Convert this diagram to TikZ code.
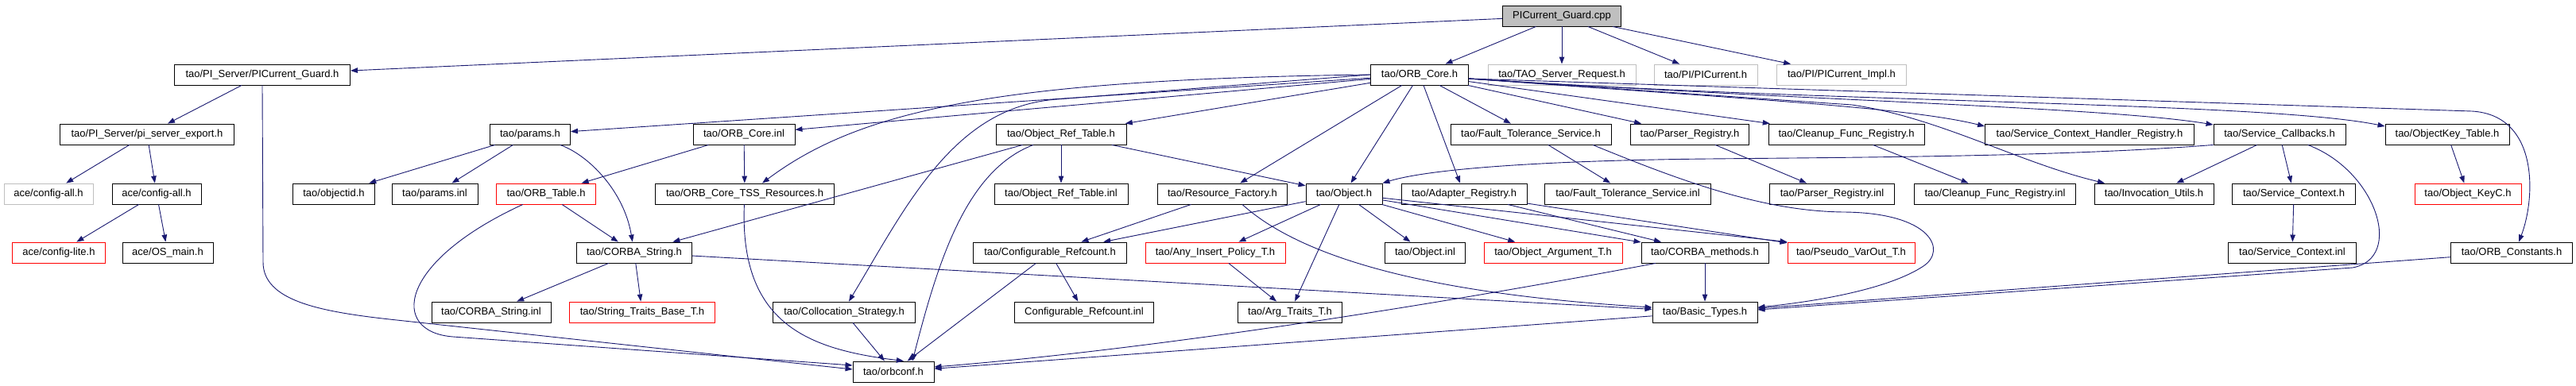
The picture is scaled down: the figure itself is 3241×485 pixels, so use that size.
\documentclass[tikz,border=0pt]{standalone}
\usepackage{fontspec}
\setmainfont{Liberation Sans}
\usetikzlibrary{arrows.meta}
\definecolor{midnightblue}{RGB}{25,25,112}
\definecolor{nodocgray}{RGB}{191,191,191}
\tikzset{
  incfile/.style={draw=black, line width=0.9pt, minimum height=26pt, inner sep=2pt, font=\fontsize{13}{15}\selectfont},
  truncfile/.style={incfile, draw=red},
  nodocfile/.style={incfile, draw=nodocgray},
  rootfile/.style={incfile, fill=nodocgray},
  incl/.style={draw=midnightblue, line width=0.9pt, -{Triangle[length=9pt,width=6.5pt]}}
}
\begin{document}
\begin{tikzpicture}[x=1pt,y=-1pt]
  \useasboundingbox (0,0) rectangle (3241,485);
  \node[rootfile, minimum width=149pt] (cpp) at (1965,20) {PICurrent\_Guard.cpp};
  \node[incfile, minimum width=221pt] (guardh) at (330,94) {tao/PI\_Server/PICurrent\_Guard.h};
  \node[incfile, minimum width=123pt] (orbcore) at (1786,94) {tao/ORB\_Core.h};
  \node[nodocfile, minimum width=186pt] (tsr) at (1965,94) {tao/TAO\_Server\_Request.h};
  \node[nodocfile, minimum width=130pt] (picur) at (2146,94) {tao/PI/PICurrent.h};
  \node[nodocfile, minimum width=163pt] (piimpl) at (2317,94) {tao/PI/PICurrent\_Impl.h};
  \node[incfile, minimum width=219pt] (piexp) at (185,169) {tao/PI\_Server/pi\_server\_export.h};
  \node[incfile, minimum width=101pt] (params) at (667,169) {tao/params.h};
  \node[incfile, minimum width=128pt] (corei) at (936,169) {tao/ORB\_Core.inl};
  \node[incfile, minimum width=164pt] (ortab) at (1335,169) {tao/Object\_Ref\_Table.h};
  \node[incfile, minimum width=202pt] (fts) at (1926,169) {tao/Fault\_Tolerance\_Service.h};
  \node[incfile, minimum width=149pt] (parser) at (2126,169) {tao/Parser\_Registry.h};
  \node[incfile, minimum width=196pt] (cleanup) at (2323,169) {tao/Cleanup\_Func\_Registry.h};
  \node[incfile, minimum width=263pt] (schr) at (2629,169) {tao/Service\_Context\_Handler\_Registry.h};
  \node[incfile, minimum width=166pt] (scb) at (2868,169) {tao/Service\_Callbacks.h};
  \node[incfile, minimum width=156pt] (oktab) at (3079,169) {tao/ObjectKey\_Table.h};
  \node[nodocfile, minimum width=112pt] (cfgallg) at (61,244) {ace/config-all.h};
  \node[incfile, minimum width=112pt] (cfgall) at (197,244) {ace/config-all.h};
  \node[incfile, minimum width=103pt] (objid) at (420,244) {tao/objectid.h};
  \node[incfile, minimum width=108pt] (paramsi) at (547,244) {tao/params.inl};
  \node[truncfile, minimum width=125pt] (orbtab) at (687,244) {tao/ORB\_Table.h};
  \node[incfile, minimum width=225pt] (tss) at (937,244) {tao/ORB\_Core\_TSS\_Resources.h};
  \node[incfile, minimum width=168pt] (ortabi) at (1335,244) {tao/Object\_Ref\_Table.inl};
  \node[incfile, minimum width=163pt] (resf) at (1538,244) {tao/Resource\_Factory.h};
  \node[incfile, minimum width=96pt] (object) at (1691,244) {tao/Object.h};
  \node[incfile, minimum width=158pt] (adapt) at (1842,244) {tao/Adapter\_Registry.h};
  \node[incfile, minimum width=209pt] (ftsi) at (2048,244) {tao/Fault\_Tolerance\_Service.inl};
  \node[incfile, minimum width=157pt] (parseri) at (2305,244) {tao/Parser\_Registry.inl};
  \node[incfile, minimum width=203pt] (cleanupi) at (2510,244) {tao/Cleanup\_Func\_Registry.inl};
  \node[incfile, minimum width=150pt] (invu) at (2710,244) {tao/Invocation\_Utils.h};
  \node[incfile, minimum width=155pt] (sctx) at (2886,244) {tao/Service\_Context.h};
  \node[truncfile, minimum width=134pt] (okeyc) at (3105,244) {tao/Object\_KeyC.h};
  \node[truncfile, minimum width=117pt] (cfglite) at (74,318) {ace/config-lite.h};
  \node[incfile, minimum width=114pt] (osmain) at (211,318) {ace/OS\_main.h};
  \node[incfile, minimum width=145pt] (cstr) at (798,318) {tao/CORBA\_String.h};
  \node[incfile, minimum width=193pt] (cref) at (1321,318) {tao/Configurable\_Refcount.h};
  \node[truncfile, minimum width=176pt] (anyins) at (1529,318) {tao/Any\_Insert\_Policy\_T.h};
  \node[incfile, minimum width=101pt] (objinl) at (1793,318) {tao/Object.inl};
  \node[truncfile, minimum width=174pt] (objarg) at (1954,318) {tao/Object\_Argument\_T.h};
  \node[incfile, minimum width=160pt] (cmeth) at (2145,318) {tao/CORBA\_methods.h};
  \node[truncfile, minimum width=160pt] (pseudo) at (2329,318) {tao/Pseudo\_VarOut\_T.h};
  \node[incfile, minimum width=161pt] (sctxi) at (2884,318) {tao/Service\_Context.inl};
  \node[incfile, minimum width=153pt] (orbconst) at (3160,318) {tao/ORB\_Constants.h};
  \node[incfile, minimum width=150pt] (cstri) at (618,393) {tao/CORBA\_String.inl};
  \node[truncfile, minimum width=183pt] (strtr) at (808,393) {tao/String\_Traits\_Base\_T.h};
  \node[incfile, minimum width=179pt] (coll) at (1062,393) {tao/Collocation\_Strategy.h};
  \node[incfile, minimum width=175pt] (crefi) at (1364,393) {Configurable\_Refcount.inl};
  \node[incfile, minimum width=131pt] (argtr) at (1623,393) {tao/Arg\_Traits\_T.h};
  \node[incfile, minimum width=132pt] (btypes) at (2145,393) {tao/Basic\_Types.h};
  \node[incfile, minimum width=102pt] (orbconf) at (1124,468) {tao/orbconf.h};

  \draw[incl] (cpp) -- (guardh);
  \draw[incl] (cpp) -- (orbcore);
  \draw[incl] (cpp) -- (tsr);
  \draw[incl] (cpp) -- (picur);
  \draw[incl] (cpp) -- (piimpl);
  \draw[incl] (guardh) -- (piexp);
  \draw[incl] (guardh.south) -- (331,330) .. controls (331,378) and (400,392) .. (490,402) -- ([yshift=3pt]orbconf.west);
  \draw[incl] (piexp) -- (cfgallg);
  \draw[incl] (piexp) -- (cfgall);
  \draw[incl] (cfgall) -- (cfglite);
  \draw[incl] (cfgall) -- (osmain);
  \draw[incl] (orbcore) -- (params);
  \draw[incl] (orbcore) -- (corei);
  \draw[incl] (orbcore.west) .. controls (1250,100) and (1080,140) .. ([xshift=22pt]tss.north);
  \draw[incl] (orbcore.west) -- (1330,125) .. controls (1200,134) and (1140,260) .. ([xshift=6pt]coll.north);
  \draw[incl] (orbcore) -- (ortab);
  \draw[incl] (orbcore) -- (resf);
  \draw[incl] (orbcore) -- (object);
  \draw[incl] (orbcore) -- (adapt);
  \draw[incl] (orbcore) -- (fts);
  \draw[incl] (orbcore) -- (parser);
  \draw[incl] (orbcore) -- (cleanup);
  \draw[incl] ([yshift=-5pt]orbcore.east) .. controls (2200,125) and (2400,135) .. ([yshift=10pt]schr.west);
  \draw[incl] ([yshift=-5pt]orbcore.east) .. controls (2300,128) and (2650,135) .. ([yshift=12pt]scb.west);
  \draw[incl] ([yshift=-5pt]orbcore.east) .. controls (2300,130) and (2850,128) .. ([yshift=10pt]oktab.west);
  \draw[incl] ([yshift=-5pt]orbcore.east) -- (3110,140) .. controls (3195,145) and (3190,250) .. ([xshift=9pt]orbconst.north);
  \draw[incl] ([yshift=-5pt]orbcore.east) -- (2330,132) .. controls (2440,148) and (2540,205) .. ([xshift=-62pt]invu.north);
  \draw[incl] (params) -- (objid);
  \draw[incl] (params) -- (paramsi);
  \draw[incl] (params) .. controls (740,195) and (785,240) .. (cstr);
  \draw[incl] (corei) -- (tss);
  \draw[incl] (corei) -- (orbtab);
  \draw[incl] (orbtab) -- (cstr);
  \draw[incl] (orbtab) .. controls (500,330) and (490,418) .. (570,424) -- ([yshift=8pt]orbconf.west);
  \draw[incl] (cstr) -- (cstri);
  \draw[incl] (cstr) -- (strtr);
  \draw[incl] (cstr) -- (btypes);
  \draw[incl] (ortab) -- (ortabi);
  \draw[incl] (ortab) -- (cstr);
  \draw[incl] (ortab) .. controls (1215,215) and (1180,330) .. ([xshift=24pt]orbconf.north);
  \draw[incl] (ortab) -- (object);
  \draw[incl] (tss) .. controls (930,410) and (1020,440) .. ([xshift=13pt]orbconf.north);
  \draw[incl] (coll) -- (orbconf);
  \draw[incl] (resf) -- (cref);
  \draw[incl] ([xshift=25pt]resf.south) .. controls (1660,345) and (1880,375) .. ([yshift=6pt]btypes.west);
  \draw[incl] (cref) -- (crefi);
  \draw[incl] (cref) -- (orbconf);
  \draw[incl] (object) -- (cref);
  \draw[incl] (object) -- (anyins);
  \draw[incl] (object) -- (argtr);
  \draw[incl] (object) -- (objinl);
  \draw[incl] (object) -- (objarg);
  \draw[incl] (object) -- (cmeth);
  \draw[incl] (object) -- (pseudo.north west);
  \draw[incl] (anyins) -- (argtr);
  \draw[incl] (adapt) -- (cmeth);
  \draw[incl] (adapt) -- (pseudo);
  \draw[incl] (cmeth) -- (btypes);
  \draw[incl] ([xshift=-62pt]cmeth.south) .. controls (1800,385) and (1450,440) .. ([yshift=6pt]orbconf.east);
  \draw[incl] (btypes) -- (orbconf);
  \draw[incl] (fts) -- (ftsi);
  \draw[incl] ([xshift=78pt]fts.south) .. controls (2120,230) and (2220,266) .. (2320,267) .. controls (2430,268) and (2450,315) .. (2420,335) .. controls (2381,361) and (2300,378) .. ([yshift=6pt]btypes.east);
  \draw[incl] (parser) -- (parseri);
  \draw[incl] (cleanup) -- (cleanupi);
  \draw[incl] (scb) -- (invu);
  \draw[incl] (scb) -- (sctx);
  \draw[incl] (scb.south west) .. controls (2600,197) and (2350,198) .. (2150,200) .. controls (1950,202) and (1800,212) .. (object.north east);
  \draw[incl] (scb) .. controls (2990,215) and (3025,325) .. (2960,337) -- ([yshift=3pt]btypes.east);
  \draw[incl] (orbconst) -- (btypes);
  \draw[incl] (oktab) -- (okeyc);
  \draw[incl] (sctx) -- (sctxi);
\end{tikzpicture}
\end{document}
